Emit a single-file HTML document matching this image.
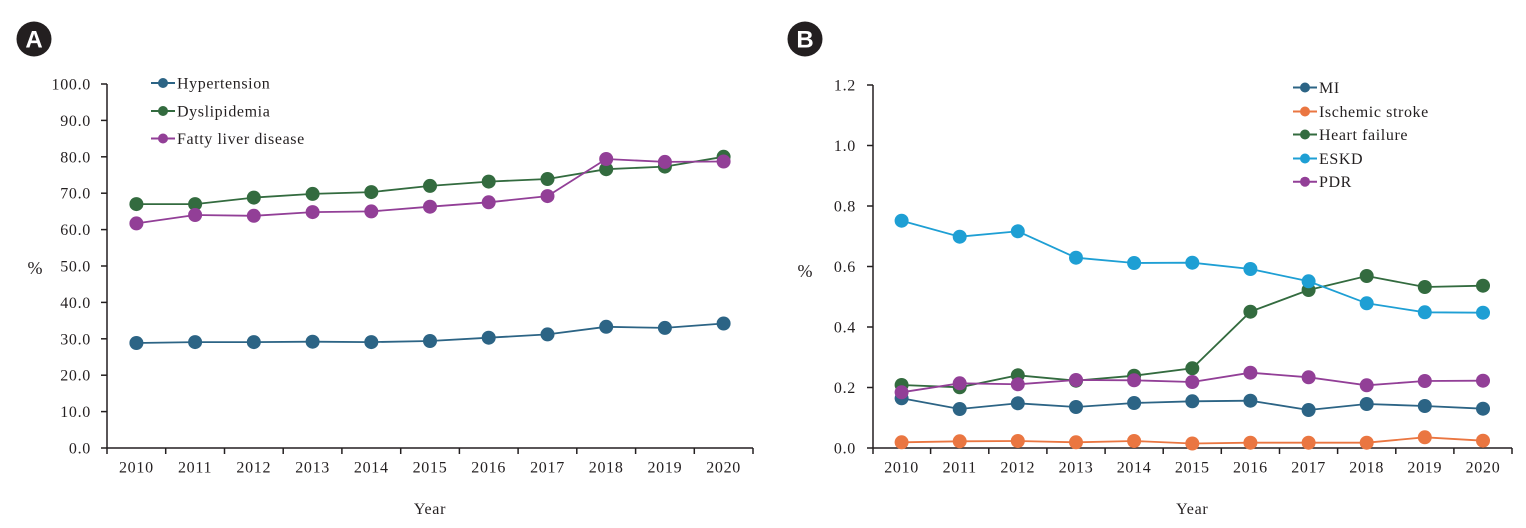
<!DOCTYPE html>
<html>
<head>
<meta charset="utf-8">
<style>
  html,body{margin:0;padding:0;background:#fff;}
  svg{display:block;}
  text{font-family:"Liberation Serif",serif;fill:#231f20;}
  .t{font-size:16px;letter-spacing:0.7px;}
  .pc{font-size:18px;}
  .lg{font-size:16px;letter-spacing:0.6px;}
  .badge{font-family:"Liberation Sans",sans-serif;font-weight:bold;font-size:24px;fill:#fff;}
</style>
</head>
<body>
<svg width="1526" height="528" viewBox="0 0 1526 528" xmlns="http://www.w3.org/2000/svg">
  <!-- Badges -->
  <circle cx="34" cy="39" r="17.5" fill="#231f20"/>
  <text class="badge" x="34" y="47.5" text-anchor="middle">A</text>
  <circle cx="805" cy="39" r="17.5" fill="#231f20"/>
  <text class="badge" x="805" y="47.5" text-anchor="middle">B</text>

  <!-- ============ PANEL A ============ -->
  <g stroke="#231f20" stroke-width="1.5" fill="none">
    <line x1="107" y1="84" x2="107" y2="448"/>
    <line x1="107" y1="448" x2="753" y2="448"/>
    <line x1="101" y1="448" x2="107" y2="448"/>
    <line x1="101" y1="411.6" x2="107" y2="411.6"/>
    <line x1="101" y1="375.2" x2="107" y2="375.2"/>
    <line x1="101" y1="338.8" x2="107" y2="338.8"/>
    <line x1="101" y1="302.4" x2="107" y2="302.4"/>
    <line x1="101" y1="266" x2="107" y2="266"/>
    <line x1="101" y1="229.6" x2="107" y2="229.6"/>
    <line x1="101" y1="193.2" x2="107" y2="193.2"/>
    <line x1="101" y1="156.8" x2="107" y2="156.8"/>
    <line x1="101" y1="120.4" x2="107" y2="120.4"/>
    <line x1="101" y1="84" x2="107" y2="84"/>
    <line x1="107" y1="448" x2="107" y2="454"/>
    <line x1="165.7" y1="448" x2="165.7" y2="454"/>
    <line x1="224.5" y1="448" x2="224.5" y2="454"/>
    <line x1="283.2" y1="448" x2="283.2" y2="454"/>
    <line x1="341.9" y1="448" x2="341.9" y2="454"/>
    <line x1="400.7" y1="448" x2="400.7" y2="454"/>
    <line x1="459.4" y1="448" x2="459.4" y2="454"/>
    <line x1="518.1" y1="448" x2="518.1" y2="454"/>
    <line x1="576.8" y1="448" x2="576.8" y2="454"/>
    <line x1="635.6" y1="448" x2="635.6" y2="454"/>
    <line x1="694.3" y1="448" x2="694.3" y2="454"/>
    <line x1="753" y1="448" x2="753" y2="454"/>
  </g>
  <g class="t" text-anchor="end">
    <text x="91" y="453.5">0.0</text>
    <text x="91" y="417.1">10.0</text>
    <text x="91" y="380.7">20.0</text>
    <text x="91" y="344.3">30.0</text>
    <text x="91" y="307.9">40.0</text>
    <text x="91" y="271.5">50.0</text>
    <text x="91" y="235.1">60.0</text>
    <text x="91" y="198.7">70.0</text>
    <text x="91" y="162.3">80.0</text>
    <text x="91" y="125.9">90.0</text>
    <text x="91" y="89.5">100.0</text>
  </g>
  <g class="t" text-anchor="middle">
    <text x="136.4" y="472.5">2010</text>
    <text x="195.1" y="472.5">2011</text>
    <text x="253.8" y="472.5">2012</text>
    <text x="312.6" y="472.5">2013</text>
    <text x="371.3" y="472.5">2014</text>
    <text x="430" y="472.5">2015</text>
    <text x="488.7" y="472.5">2016</text>
    <text x="547.5" y="472.5">2017</text>
    <text x="606.2" y="472.5">2018</text>
    <text x="664.9" y="472.5">2019</text>
    <text x="723.6" y="472.5">2020</text>
    <text x="430" y="514">Year</text>
  </g>
  <text class="pc" x="35" y="274" text-anchor="middle">%</text>

  <!-- Hypertension -->
  <g fill="#2c6485" stroke="none">
    <polyline fill="none" stroke="#2c6485" stroke-width="1.8" points="136.4,343 195.1,342.1 253.8,342.1 312.6,341.7 371.3,342.1 430,341 488.7,337.7 547.5,334.4 606.2,326.8 664.9,327.9 723.6,323.5"/>
    <circle cx="136.4" cy="343" r="7"/><circle cx="195.1" cy="342.1" r="7"/><circle cx="253.8" cy="342.1" r="7"/><circle cx="312.6" cy="341.7" r="7"/><circle cx="371.3" cy="342.1" r="7"/><circle cx="430" cy="341" r="7"/><circle cx="488.7" cy="337.7" r="7"/><circle cx="547.5" cy="334.4" r="7"/><circle cx="606.2" cy="326.8" r="7"/><circle cx="664.9" cy="327.9" r="7"/><circle cx="723.6" cy="323.5" r="7"/>
  </g>
  <!-- Dyslipidemia -->
  <g fill="#336b3f" stroke="none">
    <polyline fill="none" stroke="#336b3f" stroke-width="1.8" points="136.4,204.1 195.1,204.1 253.8,197.6 312.6,193.9 371.3,192.1 430,185.9 488.7,181.6 547.5,179 606.2,169.2 664.9,166.6 723.6,156.8"/>
    <circle cx="136.4" cy="204.1" r="7"/><circle cx="195.1" cy="204.1" r="7"/><circle cx="253.8" cy="197.6" r="7"/><circle cx="312.6" cy="193.9" r="7"/><circle cx="371.3" cy="192.1" r="7"/><circle cx="430" cy="185.9" r="7"/><circle cx="488.7" cy="181.6" r="7"/><circle cx="547.5" cy="179" r="7"/><circle cx="606.2" cy="169.2" r="7"/><circle cx="664.9" cy="166.6" r="7"/><circle cx="723.6" cy="156.8" r="7"/>
  </g>
  <!-- Fatty liver disease -->
  <g fill="#923f97" stroke="none">
    <polyline fill="none" stroke="#923f97" stroke-width="1.8" points="136.4,223.4 195.1,215 253.8,215.8 312.6,212.1 371.3,211.4 430,206.7 488.7,202.3 547.5,196.1 606.2,159 664.9,161.9 723.6,161.5"/>
    <circle cx="136.4" cy="223.4" r="7"/><circle cx="195.1" cy="215" r="7"/><circle cx="253.8" cy="215.8" r="7"/><circle cx="312.6" cy="212.1" r="7"/><circle cx="371.3" cy="211.4" r="7"/><circle cx="430" cy="206.7" r="7"/><circle cx="488.7" cy="202.3" r="7"/><circle cx="547.5" cy="196.1" r="7"/><circle cx="606.2" cy="159" r="7"/><circle cx="664.9" cy="161.9" r="7"/><circle cx="723.6" cy="161.5" r="7"/>
  </g>

  <!-- Legend A -->
  <g stroke-width="2">
    <line x1="151" y1="83" x2="175" y2="83" stroke="#2c6485"/><circle cx="163" cy="83" r="5" fill="#2c6485"/>
    <line x1="151" y1="111" x2="175" y2="111" stroke="#336b3f"/><circle cx="163" cy="111" r="5" fill="#336b3f"/>
    <line x1="151" y1="138.5" x2="175" y2="138.5" stroke="#923f97"/><circle cx="163" cy="138.5" r="5" fill="#923f97"/>
  </g>
  <g class="lg">
    <text x="177" y="88.5">Hypertension</text>
    <text x="177" y="116.5">Dyslipidemia</text>
    <text x="177" y="144">Fatty liver disease</text>
  </g>

  <!-- ============ PANEL B ============ -->
  <g stroke="#231f20" stroke-width="1.5" fill="none">
    <line x1="873" y1="85" x2="873" y2="448"/>
    <line x1="873" y1="448" x2="1512" y2="448"/>
    <line x1="867" y1="448" x2="873" y2="448"/>
    <line x1="867" y1="387.5" x2="873" y2="387.5"/>
    <line x1="867" y1="327" x2="873" y2="327"/>
    <line x1="867" y1="266.5" x2="873" y2="266.5"/>
    <line x1="867" y1="206" x2="873" y2="206"/>
    <line x1="867" y1="145.5" x2="873" y2="145.5"/>
    <line x1="867" y1="85" x2="873" y2="85"/>
    <line x1="873" y1="448" x2="873" y2="454"/>
    <line x1="930.6" y1="448" x2="930.6" y2="454"/>
    <line x1="988.8" y1="448" x2="988.8" y2="454"/>
    <line x1="1046.9" y1="448" x2="1046.9" y2="454"/>
    <line x1="1105.1" y1="448" x2="1105.1" y2="454"/>
    <line x1="1163.2" y1="448" x2="1163.2" y2="454"/>
    <line x1="1221.3" y1="448" x2="1221.3" y2="454"/>
    <line x1="1279.5" y1="448" x2="1279.5" y2="454"/>
    <line x1="1337.6" y1="448" x2="1337.6" y2="454"/>
    <line x1="1395.8" y1="448" x2="1395.8" y2="454"/>
    <line x1="1453.9" y1="448" x2="1453.9" y2="454"/>
    <line x1="1512" y1="448" x2="1512" y2="454"/>
  </g>
  <g class="t" text-anchor="end">
    <text x="856" y="453.5">0.0</text>
    <text x="856" y="393">0.2</text>
    <text x="856" y="332.5">0.4</text>
    <text x="856" y="272">0.6</text>
    <text x="856" y="211.5">0.8</text>
    <text x="856" y="151">1.0</text>
    <text x="856" y="90.5">1.2</text>
  </g>
  <g class="t" text-anchor="middle">
    <text x="901.6" y="472.5">2010</text>
    <text x="959.7" y="472.5">2011</text>
    <text x="1017.8" y="472.5">2012</text>
    <text x="1076" y="472.5">2013</text>
    <text x="1134.1" y="472.5">2014</text>
    <text x="1192.3" y="472.5">2015</text>
    <text x="1250.4" y="472.5">2016</text>
    <text x="1308.6" y="472.5">2017</text>
    <text x="1366.7" y="472.5">2018</text>
    <text x="1424.8" y="472.5">2019</text>
    <text x="1483" y="472.5">2020</text>
    <text x="1192.3" y="514">Year</text>
  </g>
  <text class="pc" x="805" y="277" text-anchor="middle">%</text>

  <!-- MI -->
  <g fill="#2c6485">
    <polyline fill="none" stroke="#2c6485" stroke-width="1.8" points="901.6,398.3 959.7,409 1017.8,403.3 1076,407 1134.1,403 1192.3,401.3 1250.4,400.7 1308.6,410 1366.7,404 1424.8,406 1483,408.7"/>
    <circle cx="901.6" cy="398.3" r="7"/><circle cx="959.7" cy="409" r="7"/><circle cx="1017.8" cy="403.3" r="7"/><circle cx="1076" cy="407" r="7"/><circle cx="1134.1" cy="403" r="7"/><circle cx="1192.3" cy="401.3" r="7"/><circle cx="1250.4" cy="400.7" r="7"/><circle cx="1308.6" cy="410" r="7"/><circle cx="1366.7" cy="404" r="7"/><circle cx="1424.8" cy="406" r="7"/><circle cx="1483" cy="408.7" r="7"/>
  </g>
  <!-- Ischemic stroke -->
  <g fill="#ea7641">
    <polyline fill="none" stroke="#ea7641" stroke-width="1.8" points="901.6,442.3 959.7,441.3 1017.8,441 1076,442.3 1134.1,441 1192.3,443.5 1250.4,442.7 1308.6,442.7 1366.7,442.7 1424.8,437.3 1483,440.7"/>
    <circle cx="901.6" cy="442.3" r="7"/><circle cx="959.7" cy="441.3" r="7"/><circle cx="1017.8" cy="441" r="7"/><circle cx="1076" cy="442.3" r="7"/><circle cx="1134.1" cy="441" r="7"/><circle cx="1192.3" cy="443.5" r="7"/><circle cx="1250.4" cy="442.7" r="7"/><circle cx="1308.6" cy="442.7" r="7"/><circle cx="1366.7" cy="442.7" r="7"/><circle cx="1424.8" cy="437.3" r="7"/><circle cx="1483" cy="440.7" r="7"/>
  </g>
  <!-- Heart failure -->
  <g fill="#336b3f">
    <polyline fill="none" stroke="#336b3f" stroke-width="1.8" points="901.6,385 959.7,387.3 1017.8,375.3 1076,380.7 1134.1,375.7 1192.3,368.3 1250.4,311.7 1308.6,290 1366.7,276 1424.8,287 1483,285.7"/>
    <circle cx="901.6" cy="385" r="7"/><circle cx="959.7" cy="387.3" r="7"/><circle cx="1017.8" cy="375.3" r="7"/><circle cx="1076" cy="380.7" r="7"/><circle cx="1134.1" cy="375.7" r="7"/><circle cx="1192.3" cy="368.3" r="7"/><circle cx="1250.4" cy="311.7" r="7"/><circle cx="1308.6" cy="290" r="7"/><circle cx="1366.7" cy="276" r="7"/><circle cx="1424.8" cy="287" r="7"/><circle cx="1483" cy="285.7" r="7"/>
  </g>
  <!-- ESKD -->
  <g fill="#1e9fd4">
    <polyline fill="none" stroke="#1e9fd4" stroke-width="1.8" points="901.6,220.7 959.7,236.7 1017.8,231.3 1076,257.7 1134.1,263 1192.3,262.7 1250.4,269 1308.6,281.3 1366.7,303.3 1424.8,312.3 1483,312.7"/>
    <circle cx="901.6" cy="220.7" r="7"/><circle cx="959.7" cy="236.7" r="7"/><circle cx="1017.8" cy="231.3" r="7"/><circle cx="1076" cy="257.7" r="7"/><circle cx="1134.1" cy="263" r="7"/><circle cx="1192.3" cy="262.7" r="7"/><circle cx="1250.4" cy="269" r="7"/><circle cx="1308.6" cy="281.3" r="7"/><circle cx="1366.7" cy="303.3" r="7"/><circle cx="1424.8" cy="312.3" r="7"/><circle cx="1483" cy="312.7" r="7"/>
  </g>
  <!-- PDR -->
  <g fill="#923f97">
    <polyline fill="none" stroke="#923f97" stroke-width="1.8" points="901.6,392.3 959.7,383.3 1017.8,384.3 1076,380 1134.1,380.3 1192.3,382 1250.4,372.7 1308.6,377.3 1366.7,385.3 1424.8,381 1483,380.7"/>
    <circle cx="901.6" cy="392.3" r="7"/><circle cx="959.7" cy="383.3" r="7"/><circle cx="1017.8" cy="384.3" r="7"/><circle cx="1076" cy="380" r="7"/><circle cx="1134.1" cy="380.3" r="7"/><circle cx="1192.3" cy="382" r="7"/><circle cx="1250.4" cy="372.7" r="7"/><circle cx="1308.6" cy="377.3" r="7"/><circle cx="1366.7" cy="385.3" r="7"/><circle cx="1424.8" cy="381" r="7"/><circle cx="1483" cy="380.7" r="7"/>
  </g>

  <!-- Legend B -->
  <g stroke-width="2">
    <line x1="1293" y1="87.5" x2="1317" y2="87.5" stroke="#2c6485"/><circle cx="1305" cy="87.5" r="5" fill="#2c6485"/>
    <line x1="1293" y1="111.5" x2="1317" y2="111.5" stroke="#ea7641"/><circle cx="1305" cy="111.5" r="5" fill="#ea7641"/>
    <line x1="1293" y1="134.5" x2="1317" y2="134.5" stroke="#336b3f"/><circle cx="1305" cy="134.5" r="5" fill="#336b3f"/>
    <line x1="1293" y1="158.5" x2="1317" y2="158.5" stroke="#1e9fd4"/><circle cx="1305" cy="158.5" r="5" fill="#1e9fd4"/>
    <line x1="1293" y1="181.7" x2="1317" y2="181.7" stroke="#923f97"/><circle cx="1305" cy="181.7" r="5" fill="#923f97"/>
  </g>
  <g class="lg">
    <text x="1319" y="93">MI</text>
    <text x="1319" y="117">Ischemic stroke</text>
    <text x="1319" y="140">Heart failure</text>
    <text x="1319" y="164">ESKD</text>
    <text x="1319" y="187.2">PDR</text>
  </g>
</svg>
</body>
</html>
